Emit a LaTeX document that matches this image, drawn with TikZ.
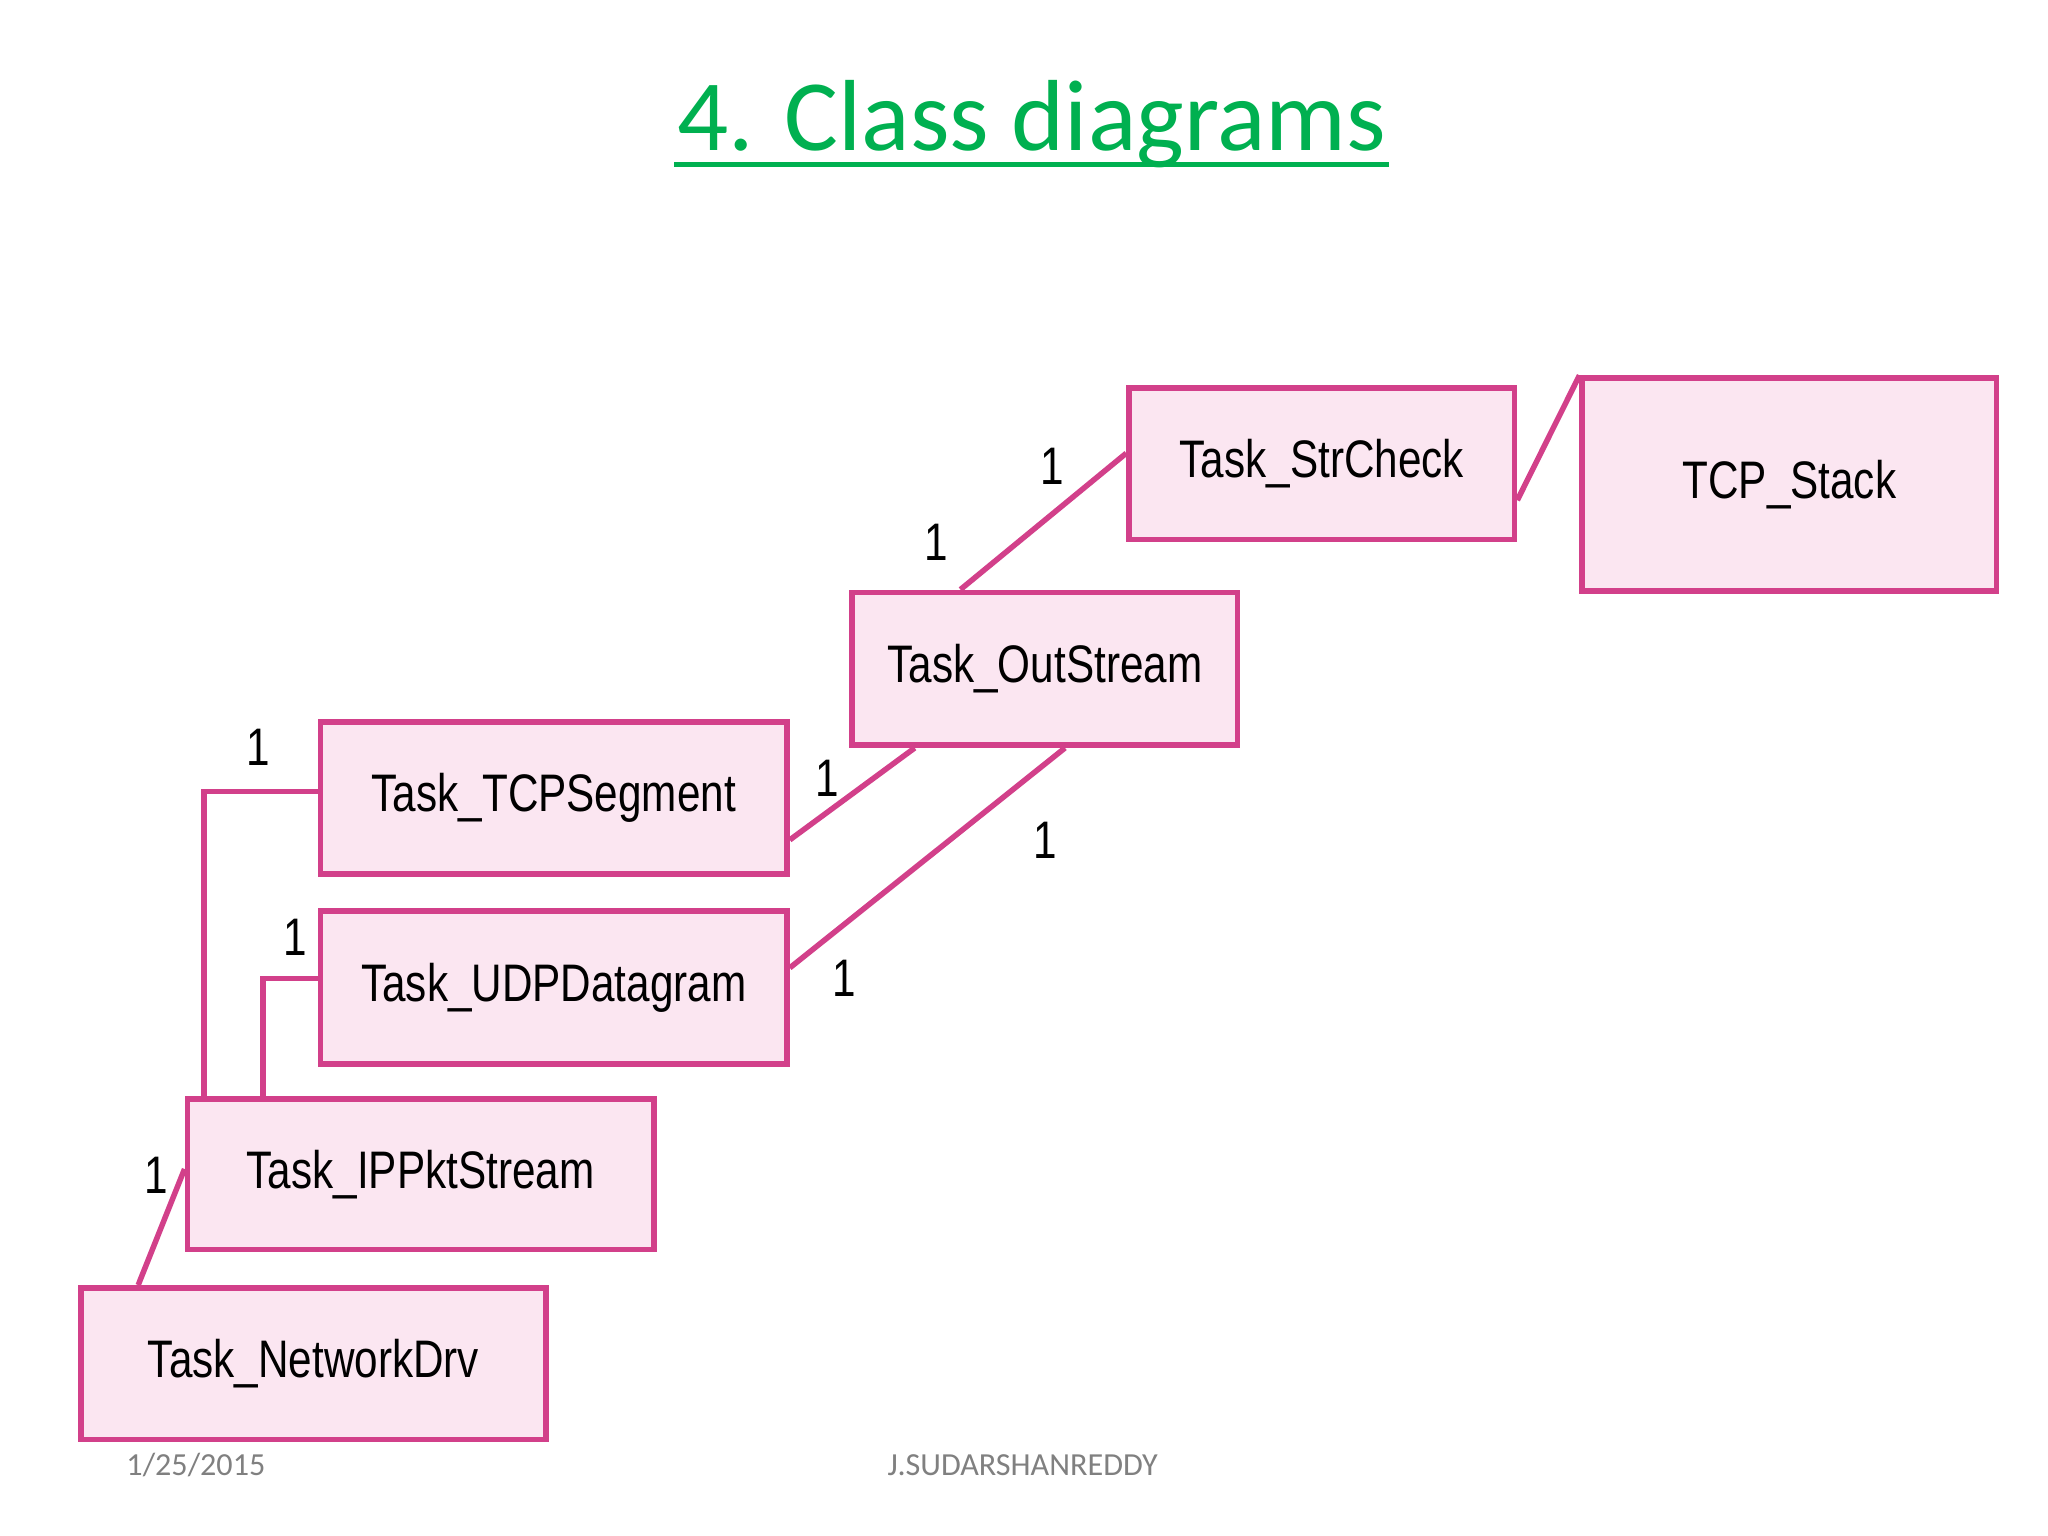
\documentclass[tikz,border=0pt]{standalone}
\usepackage{fontspec}
\setmainfont{Carlito}
\newfontfamily\boxfont[FakeStretch=0.8]{Liberation Sans}
\usepackage{xcolor}
\definecolor{boxline}{HTML}{D2408A}
\definecolor{boxfill}{HTML}{FBE6F1}
\definecolor{titlegreen}{HTML}{00B050}
\begin{document}
\begin{tikzpicture}[x=0.01cm,y=-0.01cm,
	cls/.style={draw=boxline,fill=boxfill,line width=1.2pt,inner sep=0pt,font=\boxfont\fontsize{11.5}{13}\selectfont},
	lnk/.style={draw=boxline,line width=1.2pt},
	mult/.style={font=\boxfont\fontsize{11.5}{13}\selectfont}]
		
		\useasboundingbox (0,0) rectangle (1568,1176);
		
		% title
		\node (title) at (790,95) {\fontsize{22}{26}\selectfont\color{titlegreen}4. Class diagrams};
		\draw [titlegreen,line width=0.9pt] ([yshift=0.15cm,xshift=0.1cm]title.south west) -- ([yshift=0.15cm,xshift=-0.1cm]title.south east);
		
		% classes
		\node [cls,minimum width=2.95cm,minimum height=1.16cm] (strcheck) at (1012,355) {Task\_StrCheck};
		\node [cls,minimum width=3.17cm,minimum height=1.63cm] (tcpstack) at (1370,371) {TCP\_Stack};
		\node [cls,minimum width=2.95cm,minimum height=1.17cm] (outstream) at (800,512) {Task\_OutStream};
		\node [cls,minimum width=3.57cm,minimum height=1.16cm] (tcpseg) at (424,611) {Task\_TCPSegment};
		\node [cls,minimum width=3.57cm,minimum height=1.17cm] (udpdg) at (424,756) {Task\_UDPDatagram};
		\node [cls,minimum width=3.57cm,minimum height=1.15cm] (ippkt) at (322,899) {Task\_IPPktStream};
		\node [cls,minimum width=3.56cm,minimum height=1.16cm] (netdrv) at (240,1044) {Task\_NetworkDrv};
		
		% links
		\draw [lnk] ([yshift=0.08cm]strcheck.west) -- ([xshift=0.85cm]outstream.north west);
		\draw [lnk] ([yshift=-0.28cm]strcheck.east) -- (tcpstack.north west);
		\draw [lnk] ([yshift=-0.32cm]tcpseg.east) -- ([xshift=0.5cm]outstream.south west);
		\draw [lnk] ([yshift=0.15cm]udpdg.east) -- ([xshift=1.65cm]outstream.south west);
		\draw [lnk] ([yshift=0.05cm]tcpseg.west) -| ([xshift=0.15cm]ippkt.north west);
		\draw [lnk] ([yshift=0.07cm]udpdg.west) -| ([xshift=0.6cm]ippkt.north west);
		\draw [lnk] ([yshift=0.04cm]ippkt.west) -- ([xshift=0.46cm]netdrv.north west);
		
		% multiplicities
		\node [mult] (m1) at (806,357) {1};
		\node [mult] (m2) at (717,415) {1};
		\node [mult] (m3) at (633,596) {1};
		\node [mult] (m4) at (800,643) {1};
		\node [mult] (m5) at (646,749) {1};
		\node [mult] (m6) at (198,572) {1};
		\node [mult] (m7) at (226,718) {1};
		\node [mult] (m8) at (120,900) {1};
		
		% footer
		\node [gray] (date) at (150,1122) {\fontsize{7}{8}\selectfont 1/25/2015};
		\node [gray] (author) at (783,1122) {\fontsize{7}{8}\selectfont J.SUDARSHANREDDY};
		
\end{tikzpicture}
\end{document}
